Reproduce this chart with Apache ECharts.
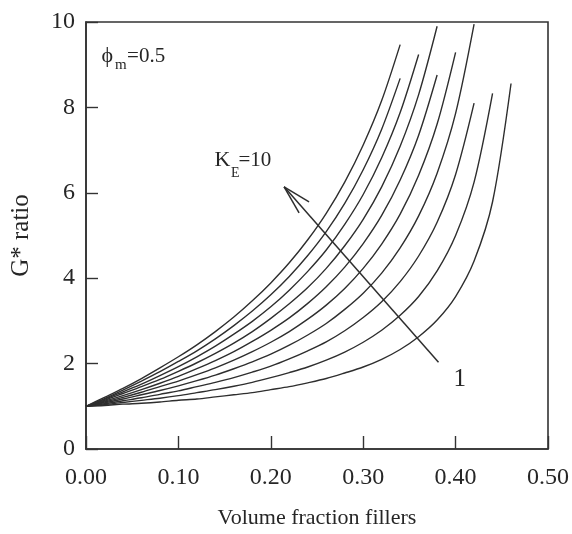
<!DOCTYPE html>
<html>
<head>
<meta charset="utf-8">
<script src="https://cdn.jsdelivr.net/npm/echarts@6/dist/echarts.min.js"></script>
<style>
  html, body { margin: 0; padding: 0; background: #ffffff; }
  #chart { width: 572px; height: 534px; }
</style>
</head>
<body>
<div id="chart"></div>
<script>
// Filler volume fraction (x) shared by all curves
const phi = [0.00, 0.02, 0.04, 0.06, 0.08, 0.10, 0.12, 0.14, 0.16, 0.18, 0.20, 0.22,
             0.24, 0.26, 0.28, 0.30, 0.32, 0.34, 0.36, 0.38, 0.40, 0.42, 0.44, 0.46];

// G* ratio for each Einstein coefficient K_E (phi_m = 0.5)
const kE1  = [1.00, 1.02, 1.05, 1.07, 1.10, 1.14, 1.17, 1.22, 1.27, 1.32, 1.39, 1.46, 1.55, 1.65, 1.78, 1.92, 2.10, 2.33, 2.63, 3.02, 3.57, 4.40, 5.79, 8.56];
const kE2  = [1.00, 1.04, 1.09, 1.14, 1.19, 1.25, 1.32, 1.39, 1.47, 1.56, 1.67, 1.79, 1.92, 2.08, 2.27, 2.50, 2.78, 3.13, 3.57, 4.17, 5.00, 6.25, 8.33];
const kE3  = [1.00, 1.06, 1.13, 1.20, 1.28, 1.36, 1.46, 1.56, 1.67, 1.80, 1.94, 2.11, 2.30, 2.51, 2.77, 3.08, 3.45, 3.92, 4.52, 5.31, 6.43, 8.10];
const kE4  = [1.00, 1.08, 1.17, 1.27, 1.37, 1.48, 1.60, 1.73, 1.88, 2.04, 2.22, 2.43, 2.67, 2.94, 3.27, 3.65, 4.12, 4.71, 5.46, 6.46, 7.86, 9.95];
const kE5  = [1.00, 1.10, 1.21, 1.33, 1.46, 1.59, 1.74, 1.90, 2.08, 2.28, 2.50, 2.75, 3.04, 3.37, 3.76, 4.23, 4.80, 5.50, 6.41, 7.61, 9.29];
const kE6  = [1.00, 1.12, 1.25, 1.39, 1.54, 1.70, 1.88, 2.07, 2.28, 2.52, 2.78, 3.07, 3.41, 3.80, 4.26, 4.81, 5.47, 6.30, 7.35, 8.76];
const kE7  = [1.00, 1.14, 1.30, 1.46, 1.63, 1.82, 2.02, 2.24, 2.48, 2.75, 3.06, 3.40, 3.78, 4.23, 4.76, 5.38, 6.14, 7.09, 8.30, 9.90];
const kE8  = [1.00, 1.16, 1.34, 1.52, 1.72, 1.93, 2.16, 2.41, 2.69, 2.99, 3.33, 3.72, 4.16, 4.66, 5.26, 5.96, 6.82, 7.88, 9.24];
const kE9  = [1.00, 1.18, 1.38, 1.59, 1.81, 2.05, 2.30, 2.58, 2.89, 3.23, 3.61, 4.04, 4.53, 5.09, 5.75, 6.54, 7.49, 8.68];
const kE10 = [1.00, 1.21, 1.42, 1.65, 1.90, 2.16, 2.44, 2.75, 3.09, 3.47, 3.89, 4.36, 4.90, 5.52, 6.25, 7.12, 8.16, 9.47];

const curves = [kE1, kE2, kE3, kE4, kE5, kE6, kE7, kE8, kE9, kE10];

// Axis ticks
const xTicks = [0.00, 0.10, 0.20, 0.30, 0.40, 0.50];
const yTicks = [0, 2, 4, 6, 8, 10];

// Arrow across the family of curves (from K_E = 1 towards K_E = 10), data units
const arrowTail  = [0.3815, 2.03];
const arrowTip   = [0.2144, 6.14];
const arrowWingA = [0.2414, 5.785];
const arrowWingB = [0.2306, 5.53];

// Annotation anchors (left end of the text baseline), data units
const anchorPhiM = [0.0169, 9.04];
const anchorKE   = [0.1390, 6.60];
const anchorOne  = [0.3976, 1.45];

const SERIF = '"Liberation Serif", "Times New Roman", "DejaVu Serif", serif';
const INK = '#262626';

const chart = echarts.init(document.getElementById('chart'), null, { renderer: 'canvas' });

const lineSeries = curves.map((vals, k) => ({
  name: 'K_E=' + (k + 1),
  type: 'line',
  data: vals.map((v, i) => [phi[i], v]),
  showSymbol: false,
  symbol: 'none',
  smooth: 0.3,
  lineStyle: { color: '#2e2e2e', width: 1.4 },
  silent: true,
  z: 3
}));

const arrowSeries = {
  type: 'lines',
  coordinateSystem: 'cartesian2d',
  polyline: false,
  silent: true,
  lineStyle: { color: '#2e2e2e', width: 1.5, opacity: 1 },
  data: [
    { coords: [arrowTail, arrowTip] },
    { coords: [arrowTip, arrowWingA] },
    { coords: [arrowTip, arrowWingB] }
  ],
  z: 4
};

chart.setOption({
  animation: false,
  backgroundColor: '#ffffff',
  grid: {
    left: 86, right: 22, top: 22, bottom: 85,
    show: true,
    borderColor: '#333333',
    borderWidth: 1.6,
    backgroundColor: 'transparent'
  },
  xAxis: {
    type: 'value',
    min: xTicks[0],
    max: xTicks[xTicks.length - 1],
    interval: 0.1,
    name: 'Volume fraction fillers',
    nameLocation: 'middle',
    nameGap: 58,
    nameTextStyle: { fontFamily: SERIF, fontSize: 22, color: INK },
    axisLine: { show: true, lineStyle: { color: '#333333', width: 1.6 } },
    axisTick: { show: true, inside: true, length: 13, lineStyle: { color: '#333333', width: 1.4 } },
    axisLabel: {
      margin: 17,
      fontFamily: SERIF, fontSize: 24, color: INK,
      formatter: v => v.toFixed(2)
    },
    splitLine: { show: false }
  },
  yAxis: {
    type: 'value',
    min: yTicks[0],
    max: yTicks[yTicks.length - 1],
    interval: 2,
    name: 'G* ratio',
    nameLocation: 'middle',
    nameGap: 52,
    nameRotate: 90,
    nameTextStyle: { fontFamily: SERIF, fontSize: 25, color: INK },
    axisLine: { show: true, lineStyle: { color: '#333333', width: 1.6 } },
    axisTick: { show: true, inside: true, length: 12, lineStyle: { color: '#333333', width: 1.4 } },
    axisLabel: { margin: 11, fontFamily: SERIF, fontSize: 24, color: INK },
    splitLine: { show: false }
  },
  series: lineSeries.concat([arrowSeries])
});

// Text annotations, placed from data-space anchors
function at(pt) { return chart.convertToPixel({ gridIndex: 0 }, pt); }
function txt(x, y, s, size) {
  return {
    type: 'text', x: x, y: y, silent: true, z: 10,
    style: {
      text: s, fill: INK,
      font: size + 'px ' + SERIF,
      textAlign: 'left', textVerticalAlign: 'middle',
      align: 'left', verticalAlign: 'middle'
    }
  };
}

const pPhi = at(anchorPhiM);
const pKE = at(anchorKE);
const pOne = at(anchorOne);

chart.setOption({
  graphic: [
    txt(pPhi[0], pPhi[1] - 7, '\u03D5', 22),
    txt(pPhi[0] + 13.5, pPhi[1] + 2.5, 'm', 15),
    txt(pPhi[0] + 25.5, pPhi[1] - 7, '=0.5', 21),

    txt(pKE[0], pKE[1] - 7, 'K', 22),
    txt(pKE[0] + 16.5, pKE[1] + 6, 'E', 14),
    txt(pKE[0] + 24, pKE[1] - 7, '=10', 21),

    txt(pOne[0], pOne[1] - 8, '1', 25)
  ]
});
</script>
</body>
</html>
